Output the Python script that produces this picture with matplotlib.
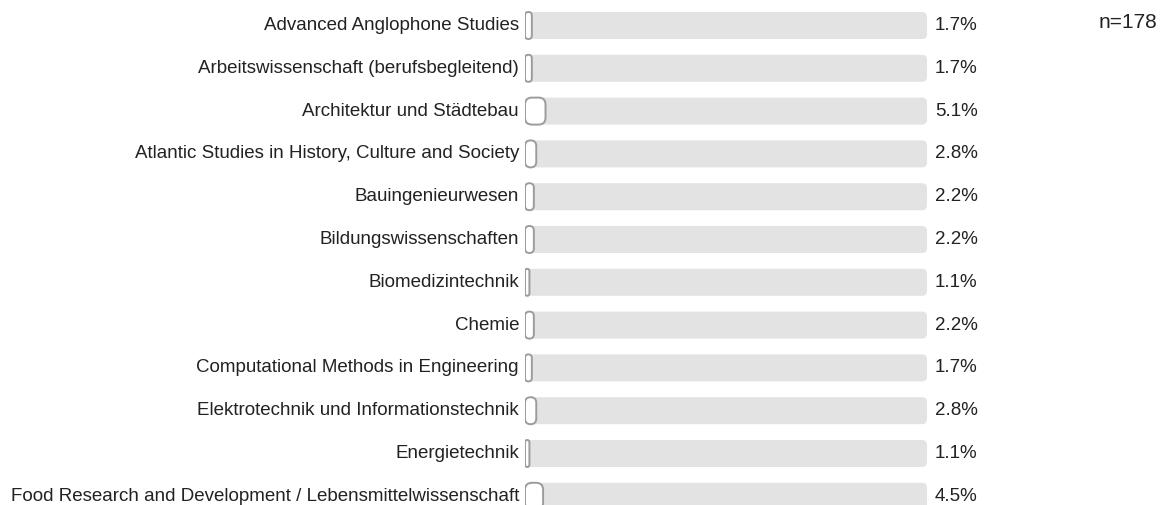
import matplotlib
matplotlib.use("Agg")
import matplotlib.pyplot as plt
from matplotlib.patches import FancyBboxPatch

plt.rcParams['font.family'] = ['Liberation Sans', 'DejaVu Sans']

categories = [
    "Advanced Anglophone Studies",
    "Arbeitswissenschaft (berufsbegleitend)",
    "Architektur und Städtebau",
    "Atlantic Studies in History, Culture and Society",
    "Bauingenieurwesen",
    "Bildungswissenschaften",
    "Biomedizintechnik",
    "Chemie",
    "Computational Methods in Engineering",
    "Elektrotechnik und Informationstechnik",
    "Energietechnik",
    "Food Research and Development / Lebensmittelwissenschaft",
]
values = [1.7, 1.7, 5.1, 2.8, 2.2, 2.2, 1.1, 2.2, 1.7, 2.8, 1.1, 4.5]
n_label = "n=178"

W, H = 1173, 505
fig = plt.figure(figsize=(W / 100, H / 100), dpi=100)

# axes placed in pixel terms: track runs from x=525 to x=927
x0, x1 = 525, 927
ax = fig.add_axes([x0 / W, 0, (x1 - x0) / W, 1])
ax.set_axis_off()

row_h = 42.8
first_c = 25.5
ax.set_xlim(0, 100)
ax.set_ylim((H - first_c) / row_h, -first_c / row_h)

px_x = 100 / (x1 - x0)      # data units per pixel (x)
px_y = 1 / row_h            # data units per pixel (y)
aspect = px_y / px_x
bar_h = 27 * px_y

for i, (cat, v) in enumerate(zip(categories, values)):
    # background track
    track = FancyBboxPatch((0, i - bar_h / 2), 100, bar_h,
                           boxstyle=f"round,pad=0,rounding_size={5 * px_x}",
                           mutation_aspect=aspect,
                           facecolor="#e3e3e3", edgecolor="none")
    ax.add_patch(track)
    # value bar
    r = min(7 * px_x, v / 2)
    bar = FancyBboxPatch((0, i - bar_h / 2), v, bar_h,
                         boxstyle=f"round,pad=0,rounding_size={r}",
                         mutation_aspect=aspect,
                         facecolor="white", edgecolor="#9c9c9c", linewidth=1.4)
    ax.add_patch(bar)
    ax.text(-6 * px_x, i, cat, ha="right", va="center", fontsize=13.5,
            color="#222222", clip_on=False)
    ax.text(100 + 8 * px_x, i, f"{v:.1f}%", ha="left", va="center",
            fontsize=13.5, color="#222222", clip_on=False)

fig.text(1157 / W, 1 - 22 / H, n_label, ha="right", va="center",
         fontsize=15, color="#222222")

fig.savefig("out.png", dpi=100)
